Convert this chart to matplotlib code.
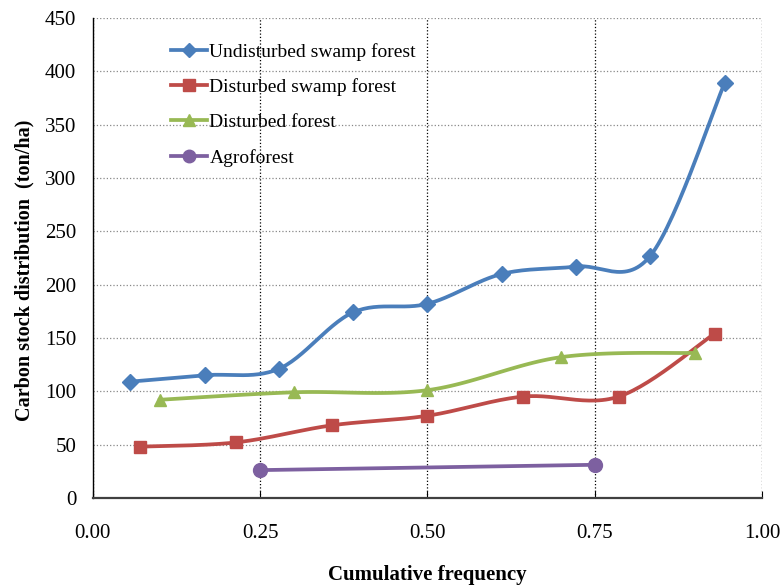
import numpy as np
import matplotlib
matplotlib.use("Agg")
import matplotlib.pyplot as plt

plt.rcParams['font.family'] = ['Liberation Serif', 'DejaVu Serif']

# data
undist_swamp_x = [0.056, 0.167, 0.278, 0.389, 0.500, 0.611, 0.722, 0.833, 0.944]
undist_swamp_y = [109, 115, 121, 174, 182, 210, 217, 227, 389]
dist_swamp_x = [0.071, 0.214, 0.357, 0.500, 0.643, 0.786, 0.929]
dist_swamp_y = [48, 52, 68, 77, 95, 95, 154]
dist_forest_x = [0.1, 0.3, 0.5, 0.7, 0.9]
dist_forest_y = [92, 99, 101, 132, 136]
agro_x = [0.25, 0.75]
agro_y = [26, 31]

x_ticks = [0.0, 0.25, 0.5, 0.75, 1.0]
y_ticks = list(range(0, 451, 50))


def smooth(x, y, n=30):
    # Excel-style smoothed line (Catmull-Rom -> cubic Bezier)
    x = np.asarray(x, float)
    y = np.asarray(y, float)
    if len(x) < 3:
        return x, y
    px = np.concatenate([[x[0]], x, [x[-1]]])
    py = np.concatenate([[y[0]], y, [y[-1]]])
    xs, ys = [], []
    t = np.linspace(0, 1, n)
    for i in range(1, len(px) - 2):
        p0 = np.array([px[i], py[i]])
        p3 = np.array([px[i + 1], py[i + 1]])
        p1 = p0 + (np.array([px[i + 1], py[i + 1]]) - np.array([px[i - 1], py[i - 1]])) / 6
        p2 = p3 - (np.array([px[i + 2], py[i + 2]]) - np.array([px[i], py[i]])) / 6
        b = ((1 - t) ** 3)[:, None] * p0 + (3 * (1 - t) ** 2 * t)[:, None] * p1 \
            + (3 * (1 - t) * t ** 2)[:, None] * p2 + (t ** 3)[:, None] * p3
        xs.extend(b[:, 0])
        ys.extend(b[:, 1])
    return np.array(xs), np.array(ys)


series = [
    ("Undisturbed swamp forest", undist_swamp_x, undist_swamp_y, "#4A7EBB", "D", 8),
    ("Disturbed swamp forest", dist_swamp_x, dist_swamp_y, "#BE4B48", "s", 9),
    ("Disturbed forest", dist_forest_x, dist_forest_y, "#98B954", "^", 9),
    ("Agroforest", agro_x, agro_y, "#7D60A0", "o", 10),
]

fig = plt.figure(figsize=(7.8, 5.85), dpi=100)
ax = fig.add_axes([0.119, 0.149, 0.858, 0.82])

for name, x, y, c, m, ms in series:
    sx, sy = smooth(x, y)
    ax.plot(sx, sy, color=c, lw=2.7, zorder=3)
    ax.plot(x, y, linestyle='none', marker=m, color=c, ms=ms, zorder=4)
    ax.plot([], [], color=c, lw=2.7, marker=m, ms=ms - 1, label=name)

ax.set_xlim(0, 1)
ax.set_ylim(0, 450)
ax.set_xticks(x_ticks)
ax.set_xticklabels(["%.2f" % v for v in x_ticks])
ax.set_yticks(y_ticks)
ax.tick_params(axis='x', direction='in', length=5, pad=19, labelsize=15)
ax.tick_params(axis='y', length=0, pad=12, labelsize=15)

ax.grid(axis='y', linestyle=':', color='#888888', lw=0.9)
ax.grid(axis='x', linestyle=':', color='black', lw=0.9)
ax.set_axisbelow(True)
ax.spines['top'].set_visible(False)
ax.spines['right'].set_visible(False)
ax.spines['bottom'].set_color('#404040')
ax.spines['bottom'].set_linewidth(1.6)
ax.spines['left'].set_linewidth(1.0)

ax.set_xlabel("Cumulative frequency", fontsize=15, fontweight='bold', labelpad=16)
ax.set_ylabel("Carbon stock distribution  (ton/ha)", fontsize=14.5, fontweight='bold')
ax.yaxis.set_label_coords(-0.0875, 0.475)

ax.legend(loc='upper left', bbox_to_anchor=(0.09, 0.985), frameon=False, fontsize=14,
          handlelength=1.9, handletextpad=0.1, labelspacing=0.9)

fig.savefig("out.png", dpi=100)
